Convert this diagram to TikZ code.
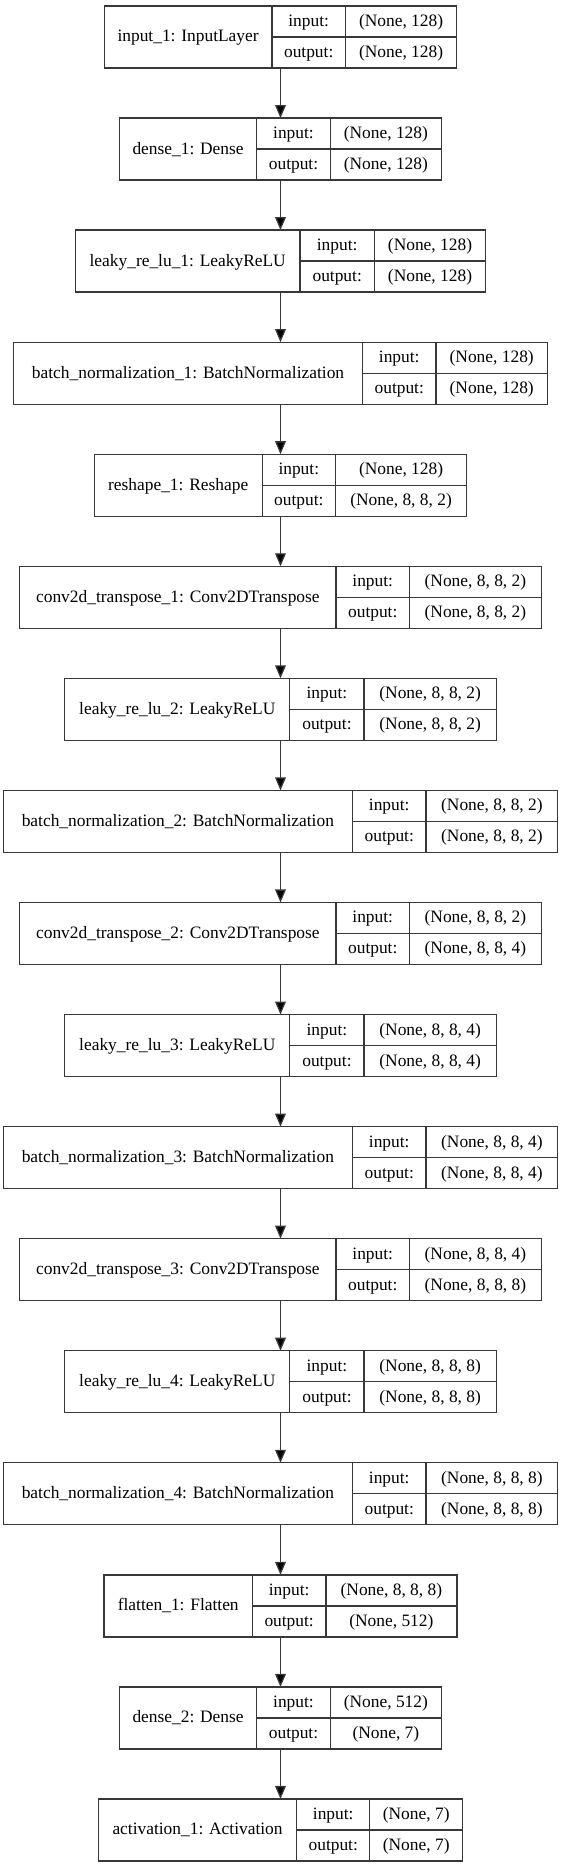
\documentclass[tikz,border=0pt]{standalone}
\usepackage{fontspec}
\setmainfont{Liberation Serif}
\usetikzlibrary{arrows.meta}
\tikzset{
  boxline/.style={draw=black!78, line width=1.3pt},
  layerbox/.style={boxline, rectangle, inner sep=0pt, outer sep=0pt, minimum height=62pt, anchor=north west},
  lbl/.style={inner sep=0pt, font=\fontsize{17.4}{20}\selectfont, text height=13pt, text depth=3pt, anchor=center},
  flow/.style={draw=black!78, line width=1.3pt, -{Triangle[length=13pt,width=10.7pt,fill=black]}},
}
\newcommand{\kl}[9]{%
  \node[layerbox, minimum width={(#6-#3)*1pt}] (#1) at (#3,#2) {};
  \draw[boxline] (#4,#2) -- (#4,{#2+62});
  \draw[boxline] (#5,#2) -- (#5,{#2+62});
  \draw[boxline] (#4,{#2+31}) -- (#6,{#2+31});
  \node[lbl] (#1-name) at ({(#3+#4)/2},{#2+31}) {#7};
  \node[lbl] (#1-inl) at ({(#4+#5)/2},{#2+15.5}) {input:};
  \node[lbl] (#1-outl) at ({(#4+#5)/2},{#2+46.5}) {output:};
  \node[lbl] (#1-inv) at ({(#5+#6)/2},{#2+15.5}) {#8};
  \node[lbl] (#1-outv) at ({(#5+#6)/2},{#2+46.5}) {#9};
}
\begin{document}
\begin{tikzpicture}[x=1pt,y=-1pt]
\useasboundingbox (0,0) rectangle (560,1867);
\kl{b1}{6}{104.3}{271.9}{345.5}{456.7}{input\_1: InputLayer}{(None, 128)}{(None, 128)}
\kl{b2}{118.06}{119.5}{256.7}{330.3}{441.5}{dense\_1: Dense}{(None, 128)}{(None, 128)}
\kl{b3}{230.12}{75.35}{300.05}{374.35}{485.65}{leaky\_re\_lu\_1: LeakyReLU}{(None, 128)}{(None, 128)}
\kl{b4}{342.18}{13.65}{362.45}{436.05}{547.35}{batch\_normalization\_1: BatchNormalization}{(None, 128)}{(None, 128)}
\kl{b5}{454.24}{94.2}{262.2}{335.4}{466.8}{reshape\_1: Reshape}{(None, 128)}{(None, 8, 8, 2)}
\kl{b6}{566.3}{19.75}{335.95}{409.55}{541.25}{conv2d\_transpose\_1: Conv2DTranspose}{(None, 8, 8, 2)}{(None, 8, 8, 2)}
\kl{b7}{678.36}{64.8}{289.8}{364.1}{496.2}{leaky\_re\_lu\_2: LeakyReLU}{(None, 8, 8, 2)}{(None, 8, 8, 2)}
\kl{b8}{790.42}{3.2}{352.5}{426}{557.8}{batch\_normalization\_2: BatchNormalization}{(None, 8, 8, 2)}{(None, 8, 8, 2)}
\kl{b9}{902.48}{19.75}{335.95}{409.55}{541.25}{conv2d\_transpose\_2: Conv2DTranspose}{(None, 8, 8, 2)}{(None, 8, 8, 4)}
\kl{b10}{1014.54}{64.8}{289.8}{364.1}{496.2}{leaky\_re\_lu\_3: LeakyReLU}{(None, 8, 8, 4)}{(None, 8, 8, 4)}
\kl{b11}{1126.6}{3.2}{352.5}{426}{557.8}{batch\_normalization\_3: BatchNormalization}{(None, 8, 8, 4)}{(None, 8, 8, 4)}
\kl{b12}{1238.66}{19.75}{335.95}{409.55}{541.25}{conv2d\_transpose\_3: Conv2DTranspose}{(None, 8, 8, 4)}{(None, 8, 8, 8)}
\kl{b13}{1350.72}{64.8}{289.8}{364.1}{496.2}{leaky\_re\_lu\_4: LeakyReLU}{(None, 8, 8, 8)}{(None, 8, 8, 8)}
\kl{b14}{1462.78}{3.2}{352.5}{426}{557.8}{batch\_normalization\_4: BatchNormalization}{(None, 8, 8, 8)}{(None, 8, 8, 8)}
\kl{b15}{1574.84}{104.1}{252.4}{325.9}{456.9}{flatten\_1: Flatten}{(None, 8, 8, 8)}{(None, 512)}
\kl{b16}{1686.9}{119.5}{256.7}{330.3}{441.5}{dense\_2: Dense}{(None, 512)}{(None, 7)}
\kl{b17}{1798.96}{98.3}{296.8}{369.7}{462.7}{activation\_1: Activation}{(None, 7)}{(None, 7)}
\foreach \a/\b in {b1/b2,b2/b3,b3/b4,b4/b5,b5/b6,b6/b7,b7/b8,b8/b9,b9/b10,b10/b11,b11/b12,b12/b13,b13/b14,b14/b15,b15/b16,b16/b17}
  \draw[flow] (\a.south) -- (\b.north);
\end{tikzpicture}
\end{document}
